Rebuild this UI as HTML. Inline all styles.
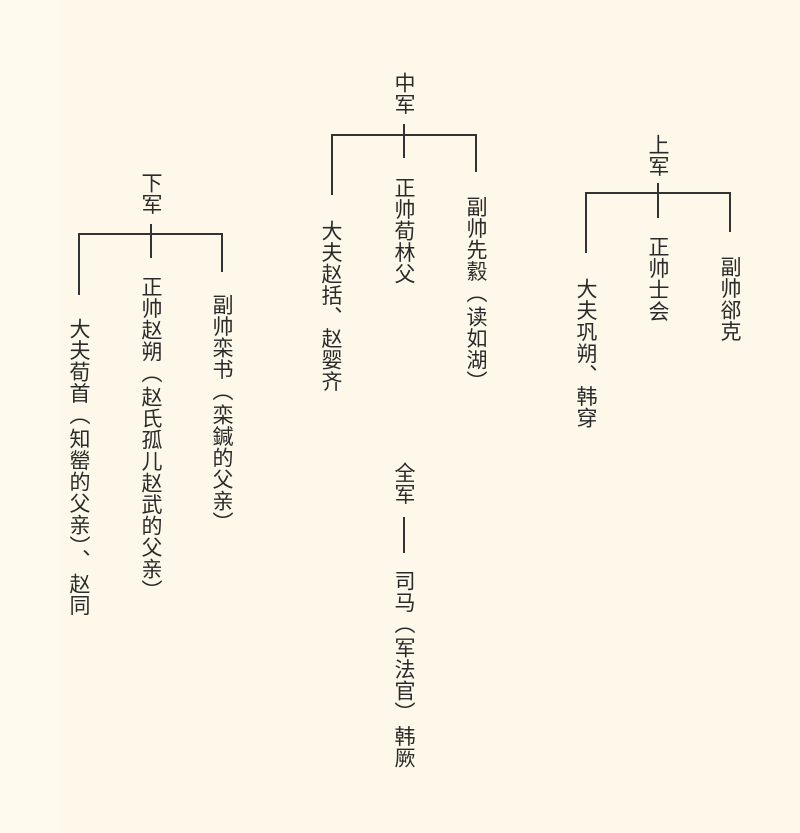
<!DOCTYPE html>
<html><head><meta charset="utf-8"><style>
html,body{margin:0;padding:0}
body{width:800px;height:833px;background:#fdf8e9;position:relative;overflow:hidden;font-family:"Liberation Sans","Noto Sans CJK SC",sans-serif;color:#2a2a2a}
.strip{position:absolute;left:0;top:0;width:60px;height:833px;background:#fefaee}
.v{position:absolute;writing-mode:vertical-rl;font-size:21px;line-height:21px;width:21px;letter-spacing:0.5px;font-weight:400;white-space:nowrap}
.p{letter-spacing:3px}
.l{position:absolute;background:#333}
</style></head><body>
<div class="strip"></div>

<div class="v" style="left:140px;top:172px">下军</div>
<div class="l" style="left:79px;top:233px;width:144px;height:2px"></div>
<div class="l" style="left:150px;top:224px;width:2px;height:34px"></div>
<div class="l" style="left:78px;top:233px;width:2px;height:62px"></div>
<div class="l" style="left:221px;top:233px;width:2px;height:39px"></div>
<div class="v" style="left:68px;top:318px">大夫荀首<span class="p">（</span>知罃的父亲<span class="p">）、</span>赵同</div>
<div class="v" style="left:140px;top:276px">正帅赵朔<span class="p">（</span>赵氏孤儿赵武的父亲）</div>
<div class="v" style="left:211px;top:294px">副帅栾书<span class="p">（</span>栾鍼的父亲）</div>

<div class="v" style="left:393px;top:72px">中军</div>
<div class="l" style="left:332px;top:134px;width:145px;height:2px"></div>
<div class="l" style="left:403px;top:124px;width:2px;height:34px"></div>
<div class="l" style="left:331px;top:134px;width:2px;height:61px"></div>
<div class="l" style="left:475px;top:134px;width:2px;height:38px"></div>
<div class="v" style="left:320px;top:220px">大夫赵括、赵婴齐</div>
<div class="v" style="left:393px;top:177px">正帅荀林父</div>
<div class="v" style="left:465px;top:196px">副帅先縠<span class="p">（</span>读如湖）</div>

<div class="v" style="left:647px;top:134px">上军</div>
<div class="l" style="left:586px;top:192px;width:145px;height:2px"></div>
<div class="l" style="left:657px;top:183px;width:2px;height:35px"></div>
<div class="l" style="left:585px;top:192px;width:2px;height:61px"></div>
<div class="l" style="left:729px;top:192px;width:2px;height:40px"></div>
<div class="v" style="left:575px;top:278px">大夫巩朔、韩穿</div>
<div class="v" style="left:647px;top:236px">正帅士会</div>
<div class="v" style="left:719px;top:256px">副帅郤克</div>

<div class="v" style="left:393px;top:462px">全军</div>
<div class="l" style="left:403px;top:517px;width:2px;height:36px"></div>
<div class="v" style="left:393px;top:570px">司马<span class="p">（</span>军法官<span class="p">）</span>韩厥</div>
</body></html>
